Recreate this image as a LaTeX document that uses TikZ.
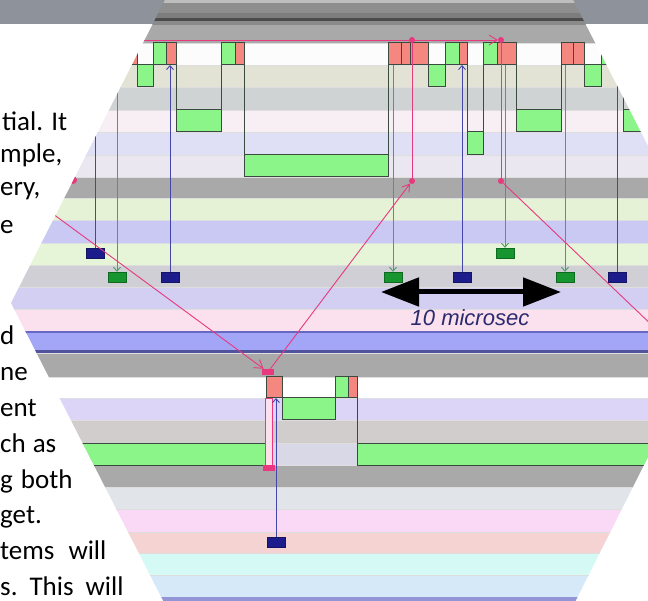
\documentclass[tikz,border=0pt]{standalone}
\usepackage{fontspec}
\setmainfont{Carlito}
\newfontfamily\spanfont{Liberation Sans}
\usetikzlibrary{arrows.meta}

\definecolor{headbar}{HTML}{8D929B}
\definecolor{stepgreen}{HTML}{8CF58A}
\definecolor{stepred}{HTML}{F4877F}
\definecolor{boxedge}{HTML}{3A4A3E}
\definecolor{navyfill}{HTML}{1C1C8C}
\definecolor{navyline}{HTML}{4646AA}
\definecolor{markgreen}{HTML}{16962E}
\definecolor{greenline}{HTML}{4E9E62}
\definecolor{msgpink}{HTML}{E8387E}
\definecolor{spanlabel}{HTML}{2A2A6E}
% lane colours
\definecolor{hdLight}{HTML}{BEBEBE}
\definecolor{hdMid}{HTML}{8E8E8E}
\definecolor{hdDeep}{HTML}{7D7D7D}
\definecolor{hdDark}{HTML}{4B4B4B}
\definecolor{hdSoft}{HTML}{8A8A8A}
\definecolor{laneWhite}{HTML}{FCFCFC}
\definecolor{laneBeige}{HTML}{E3E3D5}
\definecolor{laneSlate}{HTML}{CFD3D3}
\definecolor{lanePinkish}{HTML}{F7EFF3}
\definecolor{laneLilac}{HTML}{DFDFF5}
\definecolor{laneMauve}{HTML}{EBE7F1}
\definecolor{laneGray}{HTML}{A9A9A9}
\definecolor{laneLime}{HTML}{E6F2D6}
\definecolor{laneBlue}{HTML}{C9C9F3}
\definecolor{laneMint}{HTML}{E6F5D7}
\definecolor{laneSilver}{HTML}{CFCFD5}
\definecolor{laneViolet}{HTML}{D3CFF3}
\definecolor{laneRose}{HTML}{FBE1EE}
\definecolor{laneLav}{HTML}{DDD5F7}
\definecolor{laneTaupe}{HTML}{D1CDCD}
\definecolor{laneFog}{HTML}{D8D8E6}
\definecolor{laneMist}{HTML}{E1E5EA}
\definecolor{laneOrchid}{HTML}{F9D9F5}
\definecolor{laneSalmon}{HTML}{F5D3D3}
\definecolor{laneAqua}{HTML}{D5F9F5}
\definecolor{laneSky}{HTML}{D5E9F9}
\definecolor{barBlue}{HTML}{A3A5F7}
\definecolor{barEdge}{HTML}{6668C4}

\begin{document}
\begin{tikzpicture}[x=1pt,y=-1pt,
    lane/.style={draw=black!13, line width=0.6pt},
    stepbox/.style={draw=boxedge, line width=1pt},
    gbox/.style={stepbox, fill=stepgreen},
    rbox/.style={stepbox, fill=stepred},
    navymark/.style={draw=navyfill!70!black, fill=navyfill, minimum width=18pt, minimum height=10pt, inner sep=0pt},
    greenmark/.style={draw=markgreen!70!black, fill=markgreen, minimum width=18pt, minimum height=10pt, inner sep=0pt},
    navylink/.style={navyline, line width=0.9pt, -{Straight Barb[length=4pt,width=7pt]}},
    greenlink/.style={greenline, line width=0.9pt, -{Straight Barb[length=4pt,width=7pt]}},
    msglink/.style={msgpink, line width=0.9pt},
    msgdot/.style={circle, fill=msgpink, inner sep=0pt, minimum size=6pt},
    msgmark/.style={fill=msgpink, inner sep=0pt, minimum width=12pt, minimum height=6pt},
    para/.style={anchor=base west, inner sep=0pt, font=\fontsize{27}{32}\selectfont}]
  \useasboundingbox (0,0) rectangle (648,601);
  \clip (0,0) rectangle (648,601);
  \fill[white] (0,0) rectangle (648,601);

  % text behind the picture
  \node[para] (lineA) at (2,131) {tial. It};
  \node[para] (lineB) at (0,163) {mple,};
  \node[para] (lineC) at (0,196) {ery,};
  \node[para] (lineD) at (0,234) {e};
  \node[para] (lineE) at (0,345) {d};
  \node[para] (lineF) at (0,381) {ne};
  \node[para] (lineG) at (0,417) {ent};
  \node[para] (lineH) at (0,452) {ch\hspace{7pt}as};
  \node[para] (lineI) at (0,488) {g\hspace{8pt}both};
  \node[para] (lineJ) at (0,523) {get.};
  \node[para] (lineK) at (0,559) {tems\hspace{14pt}will};
  \node[para] (lineL) at (0,595) {s.\hspace{12pt}This\hspace{12pt}will};

  \fill[headbar] (0,0) rectangle (648,24);

  \begin{scope}
    \clip (170,-10) -- (568,-10) -- (727,300) -- (566,620) -- (173,620) -- (11,303) -- cycle;
    % header stripes of the screenshot
    \foreach \ya/\yb/\c in {-10/3/hdLight, 3/13/hdMid, 13/18/hdDeep, 18/21/hdDark, 21/25/hdSoft, 25/43/laneGray}
      \fill[\c] (-10,\ya) rectangle (740,\yb);
    % lanes
    \foreach \ya/\yb/\c in {
        43/65/laneWhite, 65/87/laneBeige, 87/110/laneSlate, 110/132/lanePinkish,
        132/155/laneLilac, 155/177/laneMauve, 177/198/laneGray, 198/220/laneLime,
        220/243/laneBlue, 243/265/laneMint, 265/287/laneSilver, 287/309/laneViolet,
        309/331/laneRose, 353/377/laneGray, 377/398/white, 398/420/laneLav,
        420/443/laneTaupe, 443/465/laneFog, 465/487/laneGray, 487/509/laneMist,
        509/532/laneOrchid, 532/553/laneSalmon, 553/575/laneAqua, 575/597/laneSky}
      \filldraw[fill=\c, lane] (-10,\ya) rectangle (740,\yb);
    \fill[barBlue] (-10,331) rectangle (740,353);
    \draw[barEdge, line width=2pt] (-10,332) -- (740,332);
    \draw[barEdge!80!black, line width=3pt] (-10,351.5) -- (740,351.5);
    \fill[barEdge!70] (-10,597) rectangle (740,620);

    % step boxes, upper part
    \foreach \xa/\xb/\ya/\yb/\k in {
        110/137/43/65/rbox, 137/153/65/87/gbox, 153/166/43/65/gbox, 166/176/43/65/rbox,
        176/221/110/132/gbox, 221/235/43/65/gbox, 235/244/43/65/rbox, 244/388/155/177/gbox,
        388/401/43/65/rbox, 401/410/43/65/rbox, 410/428/43/65/rbox, 428/445/65/87/gbox,
        445/459/43/65/gbox, 459/467/43/65/rbox, 467/483/132/155/gbox, 483/497/43/65/gbox,
        497/516/43/65/rbox, 516/561/110/132/gbox, 561/573/43/65/rbox, 573/584/43/65/rbox,
        584/601/65/87/gbox, 601/614/43/65/gbox, 614/623/43/65/rbox, 623/670/110/132/gbox}
      \filldraw[\k] (\xa,\ya) rectangle (\xb,\yb);
    \foreach \xj/\yb in {176/110, 221/110, 244/155, 388/155, 467/132, 483/132, 516/110, 561/110, 623/110}
      \draw[stepbox] (\xj,65) -- (\xj,\yb);

    % step boxes, lower part
    \foreach \xa/\xb/\ya/\yb/\k in {
        -40/265/443/465/gbox, 266/282/377/398/rbox, 282/335/398/420/gbox,
        335/348/377/398/gbox, 348/357/377/398/rbox, 357/700/443/465/gbox}
      \filldraw[\k] (\xa,\ya) rectangle (\xb,\yb);
    \draw[stepbox] (357,398) -- (357,443);
    \filldraw[draw=msgpink, fill=msgpink!15, line width=0.8pt] (265,398) rectangle (272,467);

    % event marks
    \coordinate (stepfloor) at (0,65);
    \coordinate (lowfloor) at (0,398);
    \node[navymark] (navyA) at (95,253) {};
    \node[greenmark] (greenB) at (117,277) {};
    \node[navymark] (navyC) at (170,277) {};
    \node[greenmark] (greenD) at (393,277) {};
    \node[navymark] (navyE) at (462,277) {};
    \node[greenmark] (greenF) at (505,253) {};
    \node[greenmark] (greenG) at (565,277) {};
    \node[navymark] (navyH) at (617,277) {};
    \node[navymark] (navyI) at (276,542) {};
    \foreach \n in {navyA, navyC, navyE, navyH}
      \draw[navylink] (\n) -- (\n |- stepfloor);
    \foreach \n in {greenB, greenD, greenF, greenG}
      \draw[greenlink] (\n |- stepfloor) -- (\n);
    \draw[navylink] (navyI) -- (navyI |- lowfloor);

    % messages
    \coordinate (msgIn) at (100,40);
    \coordinate (farLeft) at (0,175);
    \coordinate (farRight) at (680,352);
    \node[msgdot] (hopA) at (412,40) {};
    \node[msgdot] (hopB) at (501,40) {};
    \node[msgdot] (dropA) at (412,181) {};
    \node[msgdot] (dropB) at (501,181) {};
    \node[msgdot, minimum size=8pt] (edgeDot) at (73,180) {};
    \node[msgmark] (recvMark) at (268,372) {};
    \node[msgmark] (sendMark) at (269,468) {};
    \draw[msglink] (msgIn) -- (hopA);
    \draw[msglink, -{Straight Barb[length=8pt,width=10pt]}] (hopA) -- (hopB);
    \draw[msglink] (hopA) -- (dropA);
    \draw[msglink] (hopB) -- (dropB);
    \draw[msglink, -{Straight Barb[length=7pt,width=9pt]}] (recvMark) -- (dropA);
    \draw[msglink] (dropB) -- (farRight);
    \draw[msglink, -{Straight Barb[length=8pt,width=10pt]}] (farLeft) -- (recvMark);

    % time scale
    \coordinate (spanL) at (381,292);
    \coordinate (spanR) at (561,292);
    \draw[line width=5pt, {Triangle[length=38pt,width=28pt]}-{Triangle[length=38pt,width=28pt]}] (spanL) -- (spanR);
    \node[text=spanlabel, font=\spanfont\itshape\fontsize{22}{24}\selectfont] (spanText) at (470,318) {10 microsec};
  \end{scope}
\end{tikzpicture}
\end{document}
